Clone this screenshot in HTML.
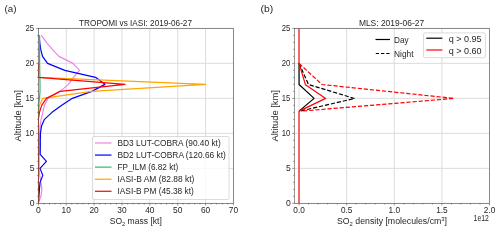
<!DOCTYPE html>
<html><head><meta charset="utf-8"><style>html,body{margin:0;padding:0;background:#fff;width:500px;height:230px;overflow:hidden}</style></head>
<body><svg width="500" height="230" viewBox="0 0 500 230" style="display:block;font-family:'Liberation Sans', sans-serif;will-change:transform"><rect width="500" height="230" fill="#fff"/><path d="M38.35 28.35V203.35 M66.22 28.35V203.35 M94.09 28.35V203.35 M121.96 28.35V203.35 M149.84 28.35V203.35 M177.71 28.35V203.35 M205.58 28.35V203.35 M233.45 28.35V203.35 M38.35 203.35H233.45 M38.35 168.35H233.45 M38.35 133.35H233.45 M38.35 98.35H233.45 M38.35 63.35H233.45 M38.35 28.35H233.45" stroke="#dcdcdc" stroke-width="1.0" fill="none"/><defs><clipPath id="ca"><rect x="38.35" y="28.35" width="195.1" height="175.0"/></clipPath><clipPath id="cb"><rect x="294.3" y="28.35" width="195.2" height="175.0"/></clipPath></defs><g clip-path="url(#ca)"><path d="M41.42 35.35 L46.43 42.35 L52.29 49.35 L58.97 56.35 L72.91 63.35 L79.60 70.35 L73.47 77.35 L68.45 84.35 L60.09 91.35 L48.11 98.35 L44.48 105.35 L42.81 112.35 L41.14 119.35 L40.02 126.35 L39.60 133.35 L39.46 140.35 L39.33 147.35 L39.19 154.35 L39.19 161.35 L39.19 168.35 L39.74 175.35 L40.86 182.35 L41.97 189.35 L40.86 196.35 L38.35 203.35" stroke="#ee82ee" stroke-width="1.2" fill="none" stroke-linejoin="round" stroke-linecap="butt" /><path d="M39.05 35.35 L39.74 42.35 L40.72 49.35 L42.53 56.35 L47.55 63.35 L64.83 70.35 L95.49 77.35 L104.96 84.35 L91.86 91.35 L72.35 98.35 L61.76 105.35 L52.01 112.35 L44.48 119.35 L41.42 126.35 L40.44 133.35 L40.30 140.35 L40.30 147.35 L40.16 154.35 L46.43 161.35 L40.02 168.35 L42.81 175.35 L40.02 182.35 L39.46 189.35 L38.91 196.35 L38.35 203.35" stroke="#0000ff" stroke-width="1.2" fill="none" stroke-linejoin="round" stroke-linecap="butt" /><path d="M39.60 35.35 L39.60 42.35 L39.60 49.35 L39.60 56.35 L39.60 63.35 L39.74 70.35 L39.88 77.35 L40.02 84.35 L40.02 91.35 L39.46 98.35 L38.63 105.35 L38.35 112.35 L38.35 119.35 L38.35 126.35 L38.35 133.35 L38.35 140.35 L38.35 147.35 L38.35 154.35 L38.35 161.35 L38.35 168.35 L38.35 175.35 L38.35 182.35 L38.35 189.35 L38.35 196.35 L38.35 203.35" stroke="#3cb371" stroke-width="1.2" fill="none" stroke-linejoin="round" stroke-linecap="butt" /><path d="M38.35 63.35 L38.35 70.35 L38.35 77.35 L205.58 84.35 L91.31 91.35 L42.81 98.35 L39.46 105.35 L38.63 112.35 L38.35 119.35 L38.35 126.35 L38.35 133.35 L38.35 140.35 L38.35 147.35 L38.35 154.35 L38.35 161.35 L38.35 168.35 L38.35 175.35 L38.35 182.35 L38.35 189.35 L38.35 196.35 L38.35 203.35" stroke="#ffa500" stroke-width="1.2" fill="none" stroke-linejoin="round" stroke-linecap="butt" /><path d="M38.35 63.35 L38.35 70.35 L38.35 77.35 L125.03 84.35 L60.09 91.35 L46.43 98.35 L41.69 105.35 L39.46 112.35 L38.35 119.35 L38.35 126.35 L38.35 133.35 L38.35 140.35 L38.35 147.35 L38.35 154.35 L38.35 161.35 L38.35 168.35 L38.35 175.35 L38.35 182.35 L38.35 189.35 L38.35 196.35 L38.35 203.35" stroke="#ff0000" stroke-width="1.2" fill="none" stroke-linejoin="round" stroke-linecap="butt" /></g><rect x="38.35" y="28.35" width="195.10" height="175.00" fill="none" stroke="#505050" stroke-width="0.6"/><path d="M38.35 203.35v2.1 M66.22 203.35v2.1 M94.09 203.35v2.1 M121.96 203.35v2.1 M149.84 203.35v2.1 M177.71 203.35v2.1 M205.58 203.35v2.1 M233.45 203.35v2.1 M43.92 203.35v1.2 M49.50 203.35v1.2 M55.07 203.35v1.2 M60.65 203.35v1.2 M71.80 203.35v1.2 M77.37 203.35v1.2 M82.94 203.35v1.2 M88.52 203.35v1.2 M99.67 203.35v1.2 M105.24 203.35v1.2 M110.82 203.35v1.2 M116.39 203.35v1.2 M127.54 203.35v1.2 M133.11 203.35v1.2 M138.69 203.35v1.2 M144.26 203.35v1.2 M155.41 203.35v1.2 M160.98 203.35v1.2 M166.56 203.35v1.2 M172.13 203.35v1.2 M183.28 203.35v1.2 M188.86 203.35v1.2 M194.43 203.35v1.2 M200.00 203.35v1.2 M211.15 203.35v1.2 M216.73 203.35v1.2 M222.30 203.35v1.2 M227.88 203.35v1.2 M38.35 203.35h-2.1 M38.35 168.35h-2.1 M38.35 133.35h-2.1 M38.35 98.35h-2.1 M38.35 63.35h-2.1 M38.35 28.35h-2.1 M38.35 196.35h-1.2 M38.35 189.35h-1.2 M38.35 182.35h-1.2 M38.35 175.35h-1.2 M38.35 161.35h-1.2 M38.35 154.35h-1.2 M38.35 147.35h-1.2 M38.35 140.35h-1.2 M38.35 126.35h-1.2 M38.35 119.35h-1.2 M38.35 112.35h-1.2 M38.35 105.35h-1.2 M38.35 91.35h-1.2 M38.35 84.35h-1.2 M38.35 77.35h-1.2 M38.35 70.35h-1.2 M38.35 56.35h-1.2 M38.35 49.35h-1.2 M38.35 42.35h-1.2 M38.35 35.35h-1.2" stroke="#505050" stroke-width="0.6" fill="none"/><text x="38.35" y="213.10" font-size="8.6" text-anchor="middle" textLength="4.80" lengthAdjust="spacingAndGlyphs" fill="#262626" >0</text><text x="66.22" y="213.10" font-size="8.6" text-anchor="middle" textLength="9.30" lengthAdjust="spacingAndGlyphs" fill="#262626" >10</text><text x="94.09" y="213.10" font-size="8.6" text-anchor="middle" textLength="9.30" lengthAdjust="spacingAndGlyphs" fill="#262626" >20</text><text x="121.96" y="213.10" font-size="8.6" text-anchor="middle" textLength="9.30" lengthAdjust="spacingAndGlyphs" fill="#262626" >30</text><text x="149.84" y="213.10" font-size="8.6" text-anchor="middle" textLength="9.30" lengthAdjust="spacingAndGlyphs" fill="#262626" >40</text><text x="177.71" y="213.10" font-size="8.6" text-anchor="middle" textLength="9.30" lengthAdjust="spacingAndGlyphs" fill="#262626" >50</text><text x="205.58" y="213.10" font-size="8.6" text-anchor="middle" textLength="9.30" lengthAdjust="spacingAndGlyphs" fill="#262626" >60</text><text x="233.45" y="213.10" font-size="8.6" text-anchor="middle" textLength="9.30" lengthAdjust="spacingAndGlyphs" fill="#262626" >70</text><text x="34.50" y="206.45" font-size="8.6" text-anchor="end" textLength="4.80" lengthAdjust="spacingAndGlyphs" fill="#262626" >0</text><text x="34.50" y="171.45" font-size="8.6" text-anchor="end" textLength="4.80" lengthAdjust="spacingAndGlyphs" fill="#262626" >5</text><text x="34.10" y="136.45" font-size="8.6" text-anchor="end" textLength="8.60" lengthAdjust="spacingAndGlyphs" fill="#262626" >10</text><text x="34.10" y="101.45" font-size="8.6" text-anchor="end" textLength="8.60" lengthAdjust="spacingAndGlyphs" fill="#262626" >15</text><text x="34.10" y="66.45" font-size="8.6" text-anchor="end" textLength="8.60" lengthAdjust="spacingAndGlyphs" fill="#262626" >20</text><text x="34.10" y="31.45" font-size="8.6" text-anchor="end" textLength="8.60" lengthAdjust="spacingAndGlyphs" fill="#262626" >25</text><text x="79.10" y="25.60" font-size="8.7" text-anchor="start" textLength="112.90" lengthAdjust="spacingAndGlyphs" fill="#262626" >TROPOMI vs IASI: 2019-06-27</text><text x="4.50" y="12.00" font-size="8.8" text-anchor="start" textLength="12.00" lengthAdjust="spacingAndGlyphs" fill="#262626" >(a)</text><text x="109.7" y="224.2" font-size="8.4" fill="#262626" textLength="52.1" lengthAdjust="spacingAndGlyphs">SO<tspan font-size="5.6" dy="1.6">2</tspan><tspan dy="-1.6"> mass [kt]</tspan></text><text transform="translate(21.2 141.5) rotate(-90)" x="0" y="0" font-size="8.4" fill="#262626" textLength="51.3" lengthAdjust="spacingAndGlyphs">Altitude [km]</text><rect x="92.5" y="136.5" width="136.5" height="63" rx="1.5" fill="#fff" fill-opacity="0.8" stroke="#cccccc" stroke-width="0.7"/><path d="M95 143.00H111.5" stroke="#ee82ee" stroke-width="1.2"/><text x="117.50" y="146.00" font-size="8.4" text-anchor="start" textLength="103.20" lengthAdjust="spacingAndGlyphs" fill="#262626" >BD3 LUT-COBRA (90.40 kt)</text><path d="M95 155.07H111.5" stroke="#0000ff" stroke-width="1.2"/><text x="117.50" y="158.07" font-size="8.4" text-anchor="start" textLength="108.30" lengthAdjust="spacingAndGlyphs" fill="#262626" >BD2 LUT-COBRA (120.66 kt)</text><path d="M95 167.14H111.5" stroke="#3cb371" stroke-width="1.2"/><text x="117.50" y="170.14" font-size="8.4" text-anchor="start" textLength="60.70" lengthAdjust="spacingAndGlyphs" fill="#262626" >FP_ILM (6.82 kt)</text><path d="M95 179.21H111.5" stroke="#ffa500" stroke-width="1.2"/><text x="117.50" y="182.21" font-size="8.4" text-anchor="start" textLength="76.80" lengthAdjust="spacingAndGlyphs" fill="#262626" >IASI-B AM (82.88 kt)</text><path d="M95 191.28H111.5" stroke="#ff0000" stroke-width="1.2"/><text x="117.50" y="194.28" font-size="8.4" text-anchor="start" textLength="76.30" lengthAdjust="spacingAndGlyphs" fill="#262626" >IASI-B PM (45.38 kt)</text><path d="M299.06 28.35V203.35 M346.67 28.35V203.35 M394.28 28.35V203.35 M441.89 28.35V203.35 M489.50 28.35V203.35 M294.30 203.35H489.50 M294.30 168.35H489.50 M294.30 133.35H489.50 M294.30 98.35H489.50 M294.30 63.35H489.50 M294.30 28.35H489.50" stroke="#dcdcdc" stroke-width="1.0" fill="none"/><g clip-path="url(#cb)"><rect x="298" y="28.35" width="2" height="35.00" fill="rgb(242,105,105)"/><rect x="298" y="111.10" width="2" height="92.25" fill="rgb(242,105,105)"/><path d="M299.06 63.35 L299.06 84.50 L314.10 98.40 L299.06 111.10" stroke="#000000" stroke-width="1.2" fill="none" stroke-linejoin="round" stroke-linecap="butt" /><path d="M299.06 63.35 L308.50 84.50 L354.60 98.50 L300.00 111.10" stroke="#000000" stroke-width="1.2" fill="none" stroke-linejoin="round" stroke-linecap="butt" stroke-dasharray="4.2 1.9" /><path d="M299.06 63.35 L305.50 84.80 L325.70 98.40 L299.06 111.10" stroke="#ff0000" stroke-width="1.2" fill="none" stroke-linejoin="round" stroke-linecap="butt" /><path d="M299.06 63.35 L322.00 84.50 L454.00 98.40 L302.00 111.10" stroke="#ff0000" stroke-width="1.2" fill="none" stroke-linejoin="round" stroke-linecap="butt" stroke-dasharray="4.2 1.9" /></g><rect x="294.30" y="28.35" width="195.20" height="175.00" fill="none" stroke="#505050" stroke-width="0.6"/><path d="M299.06 203.35v2.1 M346.67 203.35v2.1 M394.28 203.35v2.1 M441.89 203.35v2.1 M489.50 203.35v2.1 M308.58 203.35v1.2 M318.10 203.35v1.2 M327.63 203.35v1.2 M337.15 203.35v1.2 M356.19 203.35v1.2 M365.71 203.35v1.2 M375.24 203.35v1.2 M384.76 203.35v1.2 M403.80 203.35v1.2 M413.32 203.35v1.2 M422.85 203.35v1.2 M432.37 203.35v1.2 M451.41 203.35v1.2 M460.93 203.35v1.2 M470.46 203.35v1.2 M479.98 203.35v1.2 M294.30 203.35h-2.1 M294.30 168.35h-2.1 M294.30 133.35h-2.1 M294.30 98.35h-2.1 M294.30 63.35h-2.1 M294.30 28.35h-2.1 M294.30 196.35h-1.2 M294.30 189.35h-1.2 M294.30 182.35h-1.2 M294.30 175.35h-1.2 M294.30 161.35h-1.2 M294.30 154.35h-1.2 M294.30 147.35h-1.2 M294.30 140.35h-1.2 M294.30 126.35h-1.2 M294.30 119.35h-1.2 M294.30 112.35h-1.2 M294.30 105.35h-1.2 M294.30 91.35h-1.2 M294.30 84.35h-1.2 M294.30 77.35h-1.2 M294.30 70.35h-1.2 M294.30 56.35h-1.2 M294.30 49.35h-1.2 M294.30 42.35h-1.2 M294.30 35.35h-1.2" stroke="#505050" stroke-width="0.6" fill="none"/><text x="299.06" y="213.10" font-size="8.6" text-anchor="middle" textLength="11.50" lengthAdjust="spacingAndGlyphs" fill="#262626" >0.0</text><text x="346.67" y="213.10" font-size="8.6" text-anchor="middle" textLength="11.50" lengthAdjust="spacingAndGlyphs" fill="#262626" >0.5</text><text x="394.28" y="213.10" font-size="8.6" text-anchor="middle" textLength="11.50" lengthAdjust="spacingAndGlyphs" fill="#262626" >1.0</text><text x="441.89" y="213.10" font-size="8.6" text-anchor="middle" textLength="11.50" lengthAdjust="spacingAndGlyphs" fill="#262626" >1.5</text><text x="489.50" y="213.10" font-size="8.6" text-anchor="middle" textLength="11.50" lengthAdjust="spacingAndGlyphs" fill="#262626" >2.0</text><text x="290.80" y="206.45" font-size="8.6" text-anchor="end" textLength="4.80" lengthAdjust="spacingAndGlyphs" fill="#262626" >0</text><text x="290.80" y="171.45" font-size="8.6" text-anchor="end" textLength="4.80" lengthAdjust="spacingAndGlyphs" fill="#262626" >5</text><text x="290.40" y="136.45" font-size="8.6" text-anchor="end" textLength="8.60" lengthAdjust="spacingAndGlyphs" fill="#262626" >10</text><text x="290.40" y="101.45" font-size="8.6" text-anchor="end" textLength="8.60" lengthAdjust="spacingAndGlyphs" fill="#262626" >15</text><text x="290.40" y="66.45" font-size="8.6" text-anchor="end" textLength="8.60" lengthAdjust="spacingAndGlyphs" fill="#262626" >20</text><text x="290.40" y="31.45" font-size="8.6" text-anchor="end" textLength="8.60" lengthAdjust="spacingAndGlyphs" fill="#262626" >25</text><text x="473.60" y="220.80" font-size="8.6" text-anchor="start" textLength="15.20" lengthAdjust="spacingAndGlyphs" fill="#262626" >1e12</text><text x="358.90" y="25.60" font-size="8.7" text-anchor="start" textLength="65.20" lengthAdjust="spacingAndGlyphs" fill="#262626" >MLS: 2019-06-27</text><text x="260.50" y="12.00" font-size="8.8" text-anchor="start" textLength="12.80" lengthAdjust="spacingAndGlyphs" fill="#262626" >(b)</text><text x="337" y="224.2" font-size="8.4" fill="#262626" textLength="110" lengthAdjust="spacingAndGlyphs">SO<tspan font-size="5.6" dy="1.6">2</tspan><tspan dy="-1.6"> density [molecules/cm</tspan><tspan font-size="5.6" dy="-3">3</tspan><tspan dy="3">]</tspan></text><text transform="translate(278.2 141.5) rotate(-90)" x="0" y="0" font-size="8.4" fill="#262626" textLength="51.3" lengthAdjust="spacingAndGlyphs">Altitude [km]</text><path d="M375.5 39.5H390" stroke="#000" stroke-width="1.2"/><path d="M375.8 53.5H390" stroke="#000" stroke-width="1.2" stroke-dasharray="3.3 1.9"/><text x="394.00" y="42.60" font-size="8.4" text-anchor="start" textLength="14.50" lengthAdjust="spacingAndGlyphs" fill="#262626" >Day</text><text x="394.00" y="56.60" font-size="8.4" text-anchor="start" textLength="19.50" lengthAdjust="spacingAndGlyphs" fill="#262626" >Night</text><rect x="423.5" y="32.9" width="61.9" height="24.8" rx="1.5" fill="#fff" fill-opacity="0.8" stroke="#cccccc" stroke-width="0.7"/><path d="M426.3 38.2H442.4" stroke="#000" stroke-width="1.2"/><path d="M426.3 50H442.4" stroke="#ff0000" stroke-width="1.2"/><text x="448.70" y="42.00" font-size="8.4" text-anchor="start" textLength="32.90" lengthAdjust="spacingAndGlyphs" fill="#262626" >q &gt; 0.95</text><text x="448.70" y="53.80" font-size="8.4" text-anchor="start" textLength="32.90" lengthAdjust="spacingAndGlyphs" fill="#262626" >q &gt; 0.60</text></svg></body></html>
